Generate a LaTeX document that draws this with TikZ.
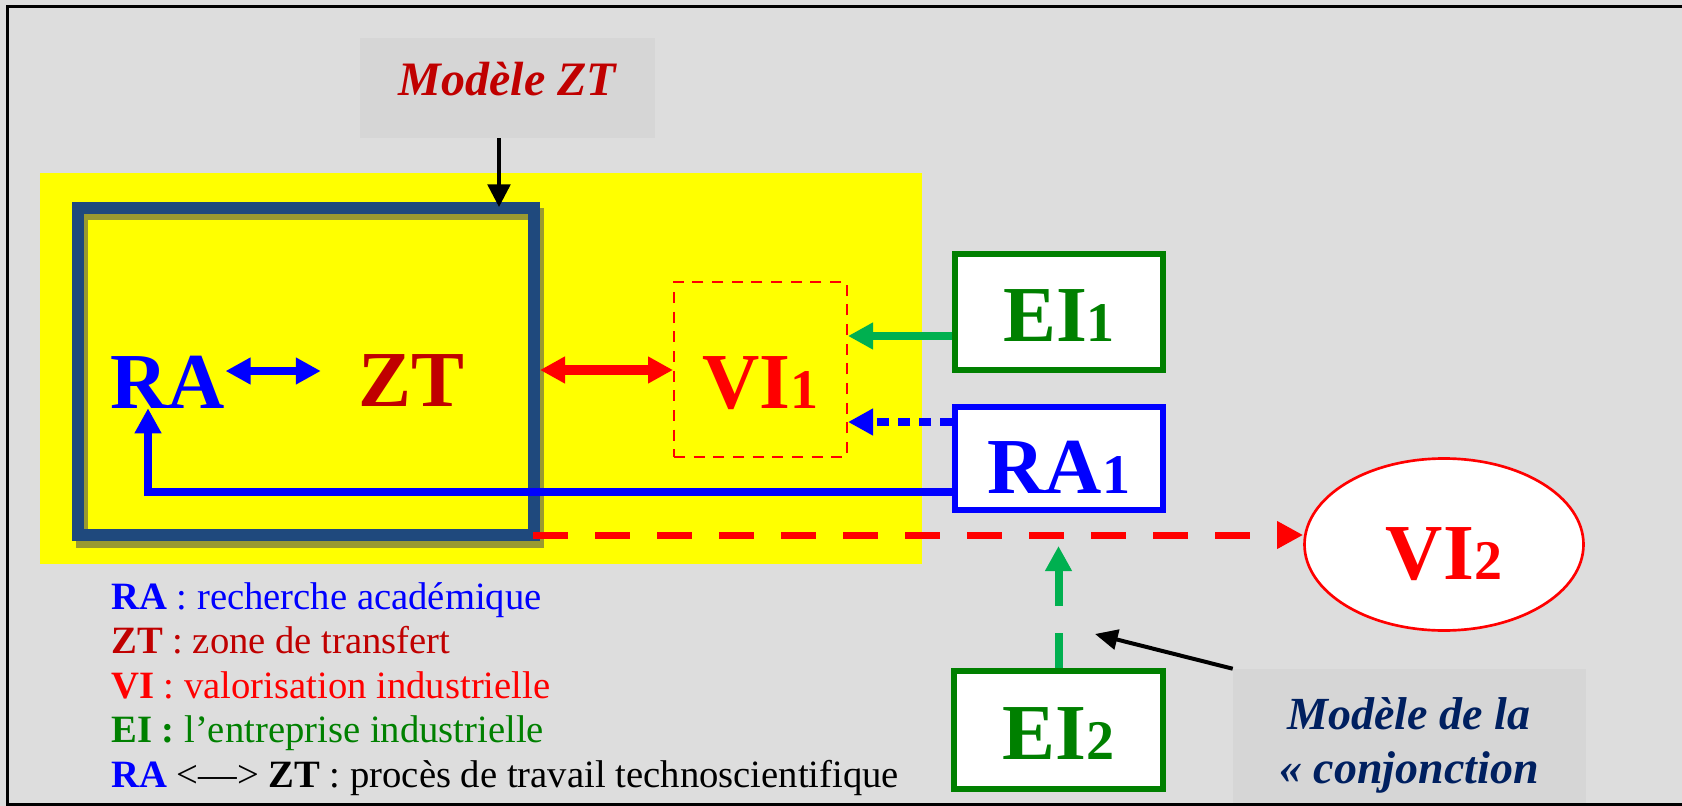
\documentclass[tikz,border=0pt]{standalone}
\usepackage{fontspec}
\setmainfont{Liberation Serif}
\usetikzlibrary{arrows.meta,calc,shapes.geometric}

\definecolor{bg}{HTML}{DDDDDD}
\definecolor{callout}{HTML}{D6D6D6}
\definecolor{darkred}{HTML}{C00000}
\definecolor{frameblue}{HTML}{1F497D}
\definecolor{shadowol}{HTML}{9A9A30}
\definecolor{pureyel}{HTML}{FFFF00}
\definecolor{eigreen}{HTML}{008000}
\definecolor{arrgreen}{HTML}{00B050}
\definecolor{navy}{HTML}{002060}

\newcommand{\subdigit}[1]{{\fontsize{42}{42}\selectfont #1}}

\begin{document}
\begin{tikzpicture}[x=0.75pt,y=-0.75pt,
  bigtxt/.style={font=\fontsize{59.5}{60}\selectfont\bfseries, inner sep=0pt},
  whitebox/.style={draw, fill=white, line width=4.5pt, inner sep=0pt, text depth=0pt, bigtxt},
  calloutbox/.style={fill=callout, inner sep=0pt},
  legendline/.style={anchor=base west, inner sep=0pt, font=\fontsize{29}{32}\selectfont},
  fattip/.style={-{Triangle[length=18.75pt,width=19pt]}},
  fatboth/.style={{Triangle[length=18.75pt,width=19pt]}-{Triangle[length=18.75pt,width=19pt]}},
  thintip/.style={-{Triangle[length=17pt,width=17pt]}},
  bigdash/.style={dash pattern=on 26.25pt off 20.25pt},
]
\useasboundingbox (0,0) rectangle (1682,806);
\fill[bg] (0,0) rectangle (1682,806);

% yellow zone
\fill[pureyel] (40,173) rectangle (922,564);

% shadow of the ZT box
\draw[shadowol, line width=9pt] (82,214.5) rectangle (538,542);

% ZT box
\node[draw=frameblue, line width=9pt, minimum width=342pt, minimum height=245.25pt, inner sep=0pt]
  (ztbox) at (306,371.5) {};

% labels inside
\node[bigtxt, text=blue, anchor=base] (ra) at (168,408) {RA};
\node[bigtxt, text=darkred, anchor=base] (zt) at (411,406) {ZT};

% VI1 dashed box
\node[draw=red, dash pattern=on 8.25pt off 6.5pt, line width=1.5pt, minimum width=129.75pt,
  minimum height=131.25pt, inner sep=0pt, bigtxt, text=red, text height=57.75pt, text depth=0pt]
  (vi1) at (760.5,369.5) {VI\subdigit{1}};

% right boxes
\node[whitebox, draw=eigreen, text=eigreen, minimum width=156pt, minimum height=87pt, text height=43.5pt]
  (ei1) at (1059,312) {EI\subdigit{1}};
\node[whitebox, draw=blue, text=blue, minimum width=156pt, minimum height=77.25pt, text height=51.75pt]
  (ra1) at (1059,458.5) {RA\subdigit{1}};
\node[whitebox, draw=eigreen, text=eigreen, minimum width=156.75pt, minimum height=88.5pt, text height=43.5pt]
  (ei2) at (1058.5,730) {EI\subdigit{2}};
\node[ellipse, draw=red, fill=white, line width=2pt, minimum width=209.25pt, minimum height=129pt,
  inner sep=0pt, bigtxt, text=red, text height=51.75pt, text depth=0pt]
  (vi2) at (1444,544.5) {VI\subdigit{2}};

% callouts
\node[calloutbox, minimum width=221.25pt, minimum height=75pt, text height=12pt, text depth=0pt,
  font=\fontsize{36}{40}\selectfont\bfseries\itshape, text=darkred]
  (mzt) at (507.5,88) {Modèle ZT};
\node[calloutbox, minimum width=264.75pt, minimum height=100.5pt] (conj) at (1409.5,736) {};
\node[inner sep=0pt, anchor=north, align=center, text=navy,
  font=\fontsize{34.5}{40.5}\selectfont\bfseries\itshape]
  (conjtext) at (1409,697) {Modèle de la\\« conjonction};
\coordinate (jct) at (1095,634);

% connectors
\draw[blue, line width=6.5pt, fatboth] (ra.east |- 0,371) -- ($(zt.west |- 0,371)+(-37,0)$);
\draw[red, line width=7pt, fatboth] (ztbox.east |- 0,370) -- (vi1.west |- 0,370);
\draw[arrgreen, line width=6pt, fattip] (ei1.west |- 0,336) -- (vi1.east |- 0,336);
\draw[blue, line width=6pt, dash pattern=on 9pt off 6.75pt, fattip] (ra1.west |- 0,422) -- (vi1.east |- 0,422);
\draw[blue, line width=6pt, fattip] (ra1.west |- 0,492) -| (ra.south -| 148,0);
\draw[red, line width=5.25pt, bigdash, -{Triangle[length=19.5pt,width=19.5pt]}]
  ($(ztbox.south east)+(-7,-6)$) -- (vi2.west |- 0,535);
\draw[arrgreen, line width=6pt, bigdash, fattip] (ei2.north) -- (ei2.north |- 0,546);
\draw[black, line width=2.6pt, thintip] (mzt.south -| 499,0) -- ($(ztbox.north -| 499,0)+(0,5)$);
\draw[black, line width=3pt, -{Triangle[length=17pt,width=15pt]}] (conj.north west) -- (jct);

% legend
\node[legendline, text=blue] (lg1) at (111,609) {\textbf{RA} : recherche académique};
\node[legendline, text=darkred] (lg2) at (111,653.5) {\textbf{ZT} : zone de transfert};
\node[legendline, text=red] (lg3) at (111,698) {\textbf{VI} : valorisation industrielle};
\node[legendline, text=eigreen] (lg4) at (111,742.5) {\textbf{EI :} l’entreprise industrielle};
\node[legendline, text=black] (lg5) at (111,787) {\textcolor{blue}{\textbf{RA}} <—> \textbf{ZT} : procès de travail technoscientifique};

% outer frame (left, top, bottom)
\draw[black, line width=2.25pt] (1682,6.3) -- (7.8,6.3) -- (7.8,804.7) -- (1682,804.7);
\end{tikzpicture}
\end{document}
